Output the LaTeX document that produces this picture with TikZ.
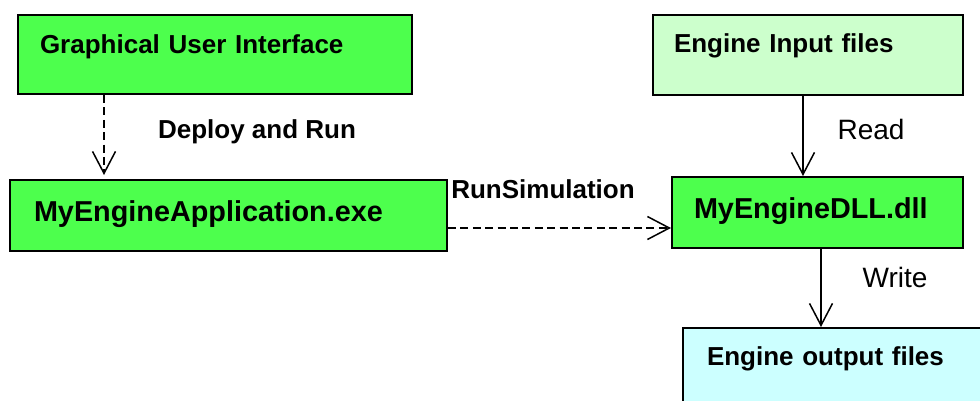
\documentclass[tikz,border=0pt]{standalone}
\usepackage{fontspec}
\setmainfont{Liberation Sans}
\usetikzlibrary{arrows.meta}
\definecolor{boxgreen}{RGB}{77,255,77}
\definecolor{palegreen}{RGB}{204,255,204}
\definecolor{palecyan}{RGB}{204,255,255}
\begin{document}
\begin{tikzpicture}[x=.5pt,y=-.5pt,
		box/.style={draw,line width=1pt,anchor=north west,inner ysep=0pt,align=left},
		lbl/.style={font=\bfseries\fontsize{13}{15}\selectfont},
		big/.style={font=\bfseries\fontsize{14.4}{17}\selectfont},
		plain/.style={font=\fontsize{14}{16}\selectfont},
		tip/.style={-{Straight Barb[length=11pt,width=11.5pt]},line width=.75pt},
		dashline/.style={dash pattern=on 4pt off 2.2pt}]
			\useasboundingbox (0,0) rectangle (980,401);
			\clip (0,0) rectangle (980,401);
			% left column
			\node[box,lbl,fill=boxgreen,inner xsep=11pt,text width=175pt,text height=19.5pt,text depth=20pt] (gui) at (17,14) {Graphical User Interface};
			\node[box,big,fill=boxgreen,inner xsep=12pt,text width=194.5pt,text height=20.5pt,text depth=15pt] (app) at (9,179) {MyEngineApplication.exe};
			% right column
			\node[box,lbl,fill=palegreen,inner xsep=10.5pt,text width=134pt,text height=19pt,text depth=21pt] (input) at (652,14) {Engine Input files};
			\node[box,big,fill=boxgreen,inner xsep=11pt,text width=123.5pt,text height=21pt,text depth=14.5pt] (dll) at (671,176) {MyEngineDLL.dll};
			\node[box,lbl,fill=palecyan,inner xsep=12pt,text width=131pt,text height=18.5pt,text depth=21.5pt] (output) at (682,327) {Engine output files};
			% connectors
			\draw[tip,dashline] ([xshift=43.5pt]gui.south west) -- ([xshift=47.5pt,yshift=2pt]app.north west);
			\draw[tip,dashline] ([yshift=-6.25pt]app.east) -- ([yshift=-6.25pt]app.east -| dll.west);
			\draw[tip] ([xshift=75.5pt]input.south west) -- ([xshift=75.5pt]input.south west |- dll.north);
			\draw[tip] ([xshift=75pt]dll.south west) -- ([xshift=75pt]dll.south west |- output.north);
			% labels
			\node[lbl] (deploy) at (257,132) {Deploy and Run};
			\node[lbl] (runsim) at (543,189) {RunSimulation};
			\node[plain] (read) at (871,129) {Read};
			\node[plain] (write) at (895,277) {Write};
		\end{tikzpicture}
\end{document}
